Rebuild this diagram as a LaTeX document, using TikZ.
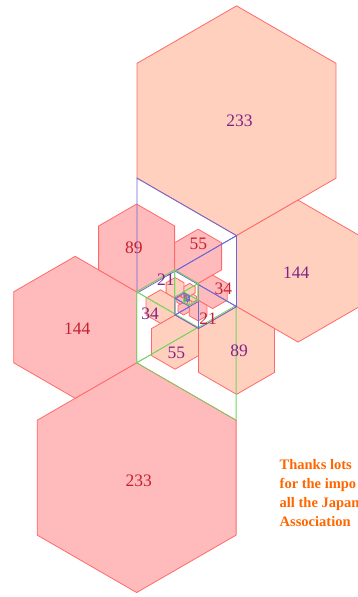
\documentclass[tikz,border=0pt]{standalone}
\usepackage{fontspec}
\newfontfamily\thanksfont{Liberation Serif}
\newfontfamily\labfont{Liberation Serif}
\definecolor{peachfill}{RGB}{255,208,190}
\definecolor{pinkfill}{RGB}{255,187,187}
\definecolor{hexedge}{RGB}{255,105,105}
\definecolor{blueline}{RGB}{105,105,215}
\definecolor{greenline}{RGB}{120,210,100}
\definecolor{peachlab}{RGB}{130,35,135}
\definecolor{pinklab}{RGB}{200,30,50}
\definecolor{thankscol}{RGB}{255,102,0}
\tikzset{
  hexpeach/.style={fill=peachfill,draw=hexedge,line width=0.8pt},
  hexpink/.style={fill=pinkfill,draw=hexedge,line width=0.8pt},
  tribl/.style={draw=blueline,line width=0.8pt},
  trigr/.style={draw=greenline,line width=0.8pt},
  lab/.style={font=\labfont\fontsize{17.5}{17.5}\selectfont,inner sep=0pt},
  peachlabel/.style={lab,text=peachlab},
  pinklabel/.style={lab,text=pinklab},
  thankstext/.style={font=\thanksfont\bfseries\fontsize{14.5}{19}\selectfont,text=thankscol,inner sep=0pt,anchor=base west},
}
\begin{document}
\begin{tikzpicture}[x=1pt,y=-1pt]
\useasboundingbox (0,0) rectangle (358,597);
\begin{scope}
\clip (0,0) rectangle (358,597);
\def\Sx{186.6}\def\Sy{299.2}\def\K{0.493}
% hexagons
\foreach \fib/\ha/\hb in {233/117/-362, 144/261/-57, 89/117/104, 55/-27/87, 34/-61/15, 21/-27/-23, 13/7/-19, 8/15/-2, 5/7/7, 3/-1/6, 2/-3/2, 1/-1/0, 1/1/0}{
  \pgfmathsetmacro\rr{\fib*\K}
  \pgfmathsetmacro\px{\Sx+\ha*0.8660254*\K}
  \pgfmathsetmacro\py{\Sy+\hb*\K}
  \pgfmathsetmacro\qx{\Sx-\ha*0.8660254*\K}
  \pgfmathsetmacro\qy{\Sy-\hb*\K}
  \draw[hexpeach] (\px,\py) +(90:\rr) -- +(150:\rr) -- +(210:\rr) -- +(270:\rr) -- +(330:\rr) -- +(30:\rr) -- cycle;
  \draw[hexpink] (\qx,\qy) +(90:\rr) -- +(150:\rr) -- +(210:\rr) -- +(270:\rr) -- +(330:\rr) -- +(30:\rr) -- cycle;
}
% triangles
\foreach \fib/\ha/\hb [count=\i from 0] in {233/117/-362, 144/261/-57, 89/117/104, 55/-27/87, 34/-61/15, 21/-27/-23, 13/7/-19, 8/15/-2, 5/7/7, 3/-1/6, 2/-3/2, 1/-1/0, 1/1/0}{
  \pgfmathsetmacro\rr{\fib*\K}
  \pgfmathsetmacro\rt{\fib*\K*1.7320508}
  \pgfmathsetmacro\px{\Sx+\ha*0.8660254*\K}
  \pgfmathsetmacro\py{\Sy+\hb*\K}
  \pgfmathsetmacro\qx{\Sx-\ha*0.8660254*\K}
  \pgfmathsetmacro\qy{\Sy-\hb*\K}
  \pgfmathsetmacro\angA{150+60*\i}
  \pgfmathsetmacro\angB{90+60*\i}
  \pgfmathsetmacro\angC{120+60*\i}
  \pgfmathsetmacro\angD{330+60*\i}
  \pgfmathsetmacro\angE{270+60*\i}
  \pgfmathsetmacro\angF{300+60*\i}
  \draw[tribl] (\px,\py) +(\angA:\rr) -- +(\angB:\rr) -- +(\angC:\rt) -- cycle;
  \draw[trigr] (\qx,\qy) +(\angD:\rr) -- +(\angE:\rr) -- +(\angF:\rt) -- cycle;
}
% labels
\node[peachlabel] (p233) at (239.5,121.2) {233};
\node[peachlabel] (p144) at (296.2,273) {144};
\node[peachlabel] (p89) at (239.2,350.8) {89};
\node[peachlabel] (p55) at (176.3,352.5) {55};
\node[peachlabel] (p34) at (150,314.2) {34};
\node[peachlabel] (p21) at (165.8,279.5) {21};
\node[pinklabel] (q233) at (138.7,480.8) {233};
\node[pinklabel] (q144) at (77.2,328.8) {144};
\node[pinklabel] (q89) at (133.8,247.5) {89};
\node[pinklabel] (q55) at (198.3,244.2) {55};
\node[pinklabel] (q34) at (223.3,289.2) {34};
\node[pinklabel] (q21) at (208,319.2) {21};
\node[lab,font=\labfont\fontsize{6}{6}\selectfont,text=peachlab] (p8) at (185.6,297.5) {8};
% text
\node[thankstext] (t1) at (279.5,469.3) {Thanks lots};
\node[thankstext] (t2) at (279.5,488.4) {for the impo};
\node[thankstext] (t3) at (279.5,507.5) {all the Japan};
\node[thankstext] (t4) at (279.5,526.6) {Association};
\end{scope}
\end{tikzpicture}
\end{document}
